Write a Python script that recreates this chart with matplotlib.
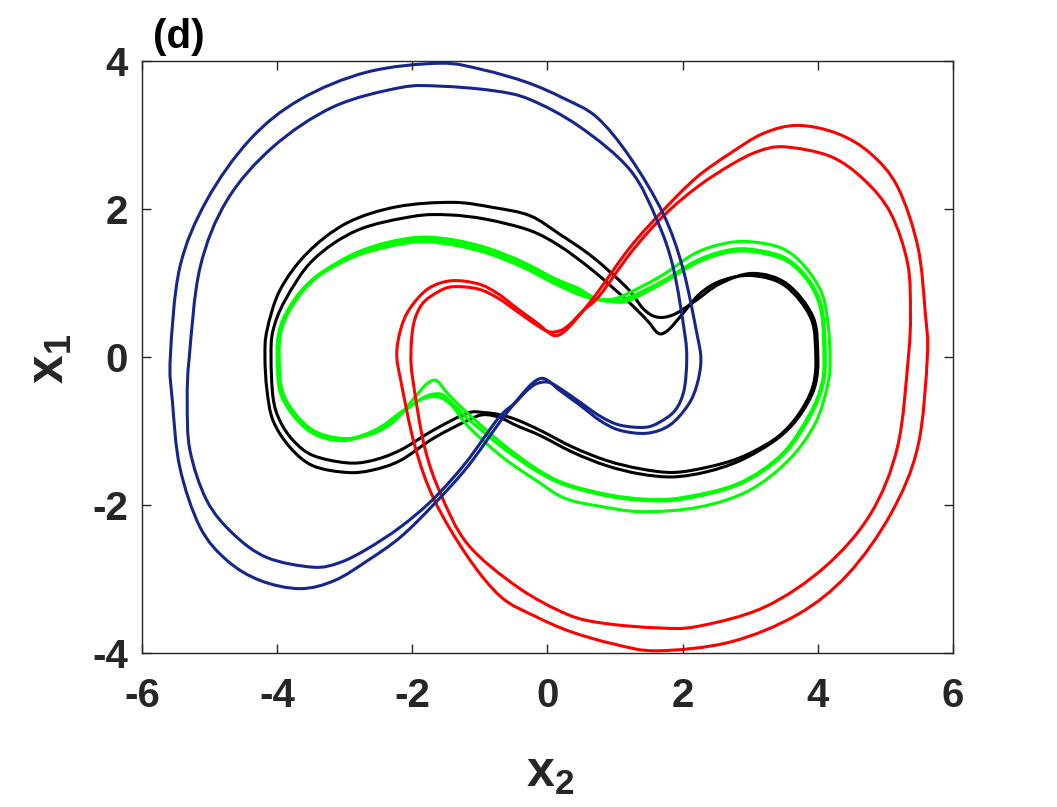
import numpy as np
import matplotlib
matplotlib.use("Agg")
import matplotlib.pyplot as plt
from matplotlib.path import Path
from matplotlib.patches import PathPatch

plt.rcParams['font.family'] = ['Liberation Sans', 'DejaVu Sans']
plt.rcParams['font.weight'] = 'bold'
plt.rcParams['mathtext.fontset'] = 'custom'
plt.rcParams['mathtext.rm'] = 'Liberation Sans:bold'
plt.rcParams['mathtext.bf'] = 'Liberation Sans:bold'
plt.rcParams['axes.unicode_minus'] = False

# traced points (x2, x1) of each closed loop
blue_outer = [(-5.58, 0.00), (-5.44, 1.21), (-5.04, 2.12), (-4.40, 2.94), (-3.66, 3.48), (-2.67, 3.85),
              (-1.59, 3.97), (-0.95, 3.88), (-0.30, 3.71), (0.23, 3.50), (0.73, 3.24), (1.22, 2.70),
              (1.71, 1.94), (2.00, 1.21), (2.21, 0.32), (2.27, -0.04), (2.21, -0.38), (2.08, -0.65),
              (1.81, -0.92), (1.47, -1.03), (1.07, -0.99), (0.78, -0.86), (0.48, -0.65), (0.18, -0.45),
              (0.01, -0.32), (-0.10, -0.29), (-0.23, -0.36), (-0.41, -0.54), (-0.69, -0.86), (-1.18, -1.48),
              (-1.67, -1.98), (-2.17, -2.43), (-2.66, -2.75), (-3.15, -3.02), (-3.66, -3.13), (-4.25, -3.02),
              (-4.74, -2.75), (-5.14, -2.30), (-5.44, -1.49), (-5.55, -0.59)]
blue_inner = [(-5.30, 0.00), (-5.14, 1.21), (-4.74, 2.12), (-4.06, 2.84), (-3.17, 3.38), (-2.18, 3.64),
              (-1.59, 3.66), (-0.81, 3.60), (-0.26, 3.48), (0.48, 3.11), (1.22, 2.53), (1.62, 1.85),
              (1.86, 1.21), (2.03, 0.32), (2.06, -0.04), (2.02, -0.45), (1.89, -0.72), (1.66, -0.88),
              (1.44, -0.95), (1.07, -0.92), (0.78, -0.80), (0.48, -0.61), (0.18, -0.42), (0.01, -0.34),
              (-0.16, -0.36), (-0.30, -0.45), (-0.48, -0.62), (-0.73, -0.83), (-1.21, -1.43), (-1.69, -1.92),
              (-2.18, -2.30), (-2.68, -2.60), (-3.08, -2.78), (-3.47, -2.84), (-4.15, -2.71), (-4.65, -2.39),
              (-5.04, -1.94), (-5.29, -1.26), (-5.33, -0.59)]

red_outer = [(5.62, 0.00), (5.48, -1.21), (5.08, -2.12), (4.44, -2.94), (3.70, -3.48), (2.71, -3.85),
             (1.63, -3.97), (0.99, -3.88), (0.34, -3.71), (-0.19, -3.50), (-0.69, -3.24), (-1.18, -2.70),
             (-1.67, -1.94), (-1.96, -1.21), (-2.17, -0.32), (-2.23, 0.04), (-2.17, 0.38), (-2.04, 0.65),
             (-1.77, 0.92), (-1.43, 1.03), (-1.03, 0.99), (-0.74, 0.86), (-0.44, 0.65), (-0.14, 0.45),
             (0.03, 0.32), (0.14, 0.29), (0.27, 0.36), (0.45, 0.54), (0.73, 0.86), (1.22, 1.48),
             (1.71, 1.98), (2.21, 2.43), (2.70, 2.75), (3.19, 3.02), (3.70, 3.13), (4.29, 3.02),
             (4.78, 2.75), (5.18, 2.30), (5.48, 1.49), (5.59, 0.59)]
red_inner = [(5.34, 0.00), (5.18, -1.21), (4.78, -2.12), (4.10, -2.84), (3.21, -3.38), (2.22, -3.64),
             (1.63, -3.66), (0.85, -3.60), (0.30, -3.48), (-0.44, -3.11), (-1.18, -2.53), (-1.58, -1.85),
             (-1.82, -1.21), (-1.99, -0.32), (-2.02, 0.04), (-1.98, 0.45), (-1.85, 0.72), (-1.62, 0.88),
             (-1.40, 0.95), (-1.03, 0.92), (-0.74, 0.80), (-0.44, 0.61), (-0.14, 0.42), (0.03, 0.34),
             (0.20, 0.36), (0.34, 0.45), (0.52, 0.62), (0.77, 0.83), (1.25, 1.43), (1.73, 1.92),
             (2.22, 2.30), (2.72, 2.60), (3.12, 2.78), (3.51, 2.84), (4.19, 2.71), (4.69, 2.39),
             (5.08, 1.94), (5.33, 1.26), (5.37, 0.59)]

black_outer = [(-4.18, 0.00), (-4.15, 0.36), (-3.96, 0.90), (-3.56, 1.40), (-2.97, 1.81), (-2.23, 2.03),
               (-1.40, 2.09), (-0.80, 2.02), (-0.26, 1.91), (0.18, 1.66), (0.67, 1.35), (1.17, 0.94),
               (1.42, 0.65), (1.62, 0.54), (1.86, 0.57), (2.16, 0.74), (2.55, 0.99), (3.04, 1.13),
               (3.54, 0.99), (3.93, 0.54), (4.00, 0.00), (3.97, -0.35), (3.85, -0.62), (3.63, -0.91),
               (3.33, -1.15), (2.85, -1.40), (2.36, -1.55), (1.86, -1.62), (1.37, -1.58), (0.88, -1.47),
               (0.38, -1.29), (-0.11, -1.06), (-0.45, -0.93), (-0.70, -0.82), (-0.95, -0.78), (-1.19, -0.86),
               (-1.69, -1.10), (-2.18, -1.40), (-2.60, -1.53), (-2.97, -1.56), (-3.47, -1.47), (-3.81, -1.22),
               (-4.06, -0.86), (-4.15, -0.45)]
black_inner = [(-4.09, 0.00), (-4.06, 0.36), (-3.88, 0.77), (-3.47, 1.31), (-2.82, 1.71), (-1.99, 1.90),
               (-1.45, 1.92), (-0.90, 1.86), (-0.26, 1.71), (0.18, 1.50), (0.67, 1.17), (1.17, 0.77),
               (1.47, 0.50), (1.64, 0.32), (1.78, 0.36), (1.96, 0.54), (2.26, 0.86), (2.60, 1.04),
               (3.04, 1.10), (3.52, 0.96), (3.90, 0.52), (3.97, 0.00), (3.94, -0.35), (3.82, -0.62),
               (3.61, -0.90), (3.33, -1.13), (2.85, -1.36), (2.36, -1.49), (1.86, -1.56), (1.37, -1.51),
               (0.88, -1.40), (0.38, -1.22), (-0.11, -0.99), (-0.45, -0.85), (-0.70, -0.78), (-0.95, -0.75),
               (-1.19, -0.76), (-1.69, -0.99), (-2.18, -1.26), (-2.60, -1.40), (-2.97, -1.43), (-3.47, -1.33),
               (-3.76, -1.13), (-3.96, -0.86), (-4.06, -0.55)]

green_a = [(4.09, 0.00), (4.06, -0.36), (3.88, -0.77), (3.47, -1.31), (2.82, -1.71), (1.99, -1.90),
           (1.45, -1.92), (0.90, -1.86), (0.26, -1.71), (-0.18, -1.50), (-0.67, -1.17), (-1.17, -0.77),
           (-1.47, -0.50), (-1.64, -0.32), (-1.78, -0.36), (-1.96, -0.54), (-2.26, -0.86), (-2.60, -1.04),
           (-3.04, -1.10), (-3.52, -0.96), (-3.90, -0.52), (-3.97, 0.00), (-3.94, 0.35), (-3.82, 0.62),
           (-3.61, 0.90), (-3.33, 1.13), (-2.85, 1.36), (-2.36, 1.49), (-1.86, 1.56), (-1.37, 1.51),
           (-0.88, 1.40), (-0.38, 1.22), (0.11, 0.99), (0.45, 0.85), (0.70, 0.78), (0.95, 0.75),
           (1.19, 0.76), (1.69, 0.99), (2.18, 1.26), (2.60, 1.40), (2.97, 1.43), (3.47, 1.33),
           (3.76, 1.13), (3.96, 0.86), (4.06, 0.55)]
green_b = [(4.18, 0.00), (4.15, -0.36), (3.96, -0.90), (3.56, -1.40), (2.97, -1.81), (2.23, -2.03),
           (1.40, -2.09), (0.80, -2.02), (0.26, -1.91), (-0.18, -1.66), (-0.67, -1.35), (-1.17, -0.94),
           (-1.42, -0.65), (-1.62, -0.54), (-1.86, -0.57), (-2.16, -0.74), (-2.55, -0.99), (-3.04, -1.13),
           (-3.54, -0.99), (-3.93, -0.54), (-4.00, 0.00), (-3.97, 0.35), (-3.85, 0.62), (-3.63, 0.91),
           (-3.33, 1.15), (-2.85, 1.40), (-2.36, 1.55), (-1.86, 1.62), (-1.37, 1.58), (-0.88, 1.47),
           (-0.38, 1.29), (0.11, 1.06), (0.45, 0.93), (0.70, 0.80), (0.95, 0.78), (1.19, 0.86),
           (1.69, 1.10), (2.18, 1.40), (2.60, 1.53), (2.97, 1.56), (3.47, 1.47), (3.81, 1.22),
           (4.06, 0.86), (4.15, 0.45)]
green_c = [(4.11, 0.00), (4.08, -0.36), (3.90, -0.78), (3.49, -1.32), (2.84, -1.72), (2.00, -1.92),
           (1.45, -1.94), (0.90, -1.88), (0.26, -1.73), (-0.18, -1.53), (-0.67, -1.22), (-1.17, -0.84),
           (-1.42, -0.62), (-1.58, -0.50), (-1.82, -0.54), (-2.12, -0.73), (-2.55, -0.99), (-3.04, -1.11),
           (-3.53, -0.97), (-3.91, -0.53), (-3.99, 0.00), (-3.96, 0.35), (-3.84, 0.62), (-3.62, 0.91),
           (-3.33, 1.14), (-2.85, 1.38), (-2.36, 1.52), (-1.86, 1.59), (-1.37, 1.54), (-0.88, 1.43),
           (-0.38, 1.25), (0.11, 1.02), (0.45, 0.89), (0.70, 0.79), (0.95, 0.76), (1.19, 0.80),
           (1.69, 1.02), (2.18, 1.29), (2.60, 1.43), (2.97, 1.46), (3.47, 1.36), (3.77, 1.15),
           (3.98, 0.87), (4.08, 0.55)]

x_ticks = [-6, -4, -2, 0, 2, 4, 6]
y_ticks = [-4, -2, 0, 2, 4]

loops = [(black_outer, 'black'), (black_inner, 'black'),
         (green_a, '#00ff00'), (green_b, '#00ff00'), (green_c, '#00ff00'),
         (red_outer, '#ff0000'), (red_inner, '#ff0000'),
         (blue_outer, '#15268c'), (blue_inner, '#15268c')]


def smooth_loop(pts):
    # closed Catmull-Rom path through the traced points, drawn as cubic Bezier segments
    p = np.array(pts)
    n = len(p)
    verts = [p[0]]
    codes = [Path.MOVETO]
    for i in range(n):
        p0, p1, p2, p3 = p[i - 1], p[i], p[(i + 1) % n], p[(i + 2) % n]
        verts += [p1 + (p2 - p0) / 6.0, p2 - (p3 - p1) / 6.0, p2]
        codes += [Path.CURVE4] * 3
    return Path(verts, codes)


fig = plt.figure(figsize=(10.57, 8.07), dpi=100)
ax = fig.add_axes([0.1343, 0.1908, 0.7673, 0.7336])

for pts, col in loops:
    ax.add_patch(PathPatch(smooth_loop(pts), facecolor='none', edgecolor=col, lw=2.2,
                           joinstyle='round'))

ax.set_xlim(-6, 6)
ax.set_ylim(-4, 4)
ax.set_xticks(x_ticks)
ax.set_yticks(y_ticks)
ax.set_xticklabels([str(t) for t in x_ticks])
ax.set_yticklabels([str(t) for t in y_ticks])
ax.tick_params(direction='in', length=6.5, width=1.0, top=True, right=True,
               labelsize=29, colors='#262626')
ax.tick_params(axis='x', pad=17)
ax.tick_params(axis='y', pad=10)
for lab in ax.get_xticklabels() + ax.get_yticklabels():
    lab.set_fontweight('bold')
for sp in ax.spines.values():
    sp.set_color('#262626')
    sp.set_linewidth(1.0)

fig.text(0.521, 0.0124, r'$\mathbf{x_2}$', fontsize=36, color='#262626', ha='center', va='bottom')
fig.text(0.0473, 0.555, r'$\mathbf{x_1}$', fontsize=37, color='#262626', ha='center', va='center', rotation=90)
fig.text(0.1447, 0.9405, '(d)', fontsize=29, fontweight='bold', color='black', ha='left', va='baseline')

fig.savefig('out.png', dpi=100)
